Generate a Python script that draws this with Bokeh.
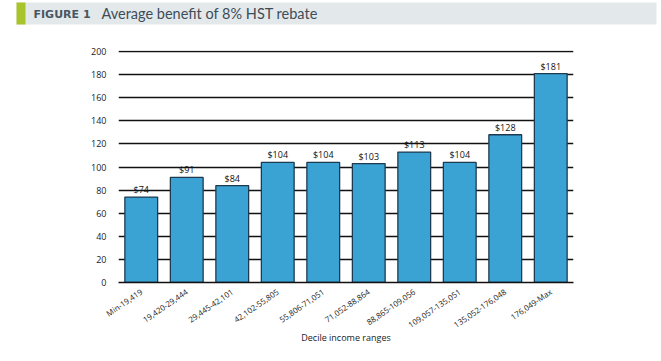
from bokeh.plotting import figure
from bokeh.layouts import column, row
from bokeh.models import ColumnDataSource, FactorRange, Range1d, FixedTicker
from bokeh.core.properties import value
from bokeh.embed import file_html
from bokeh.resources import INLINE

categories = ["Min-19,419", "19,420-29,444", "29,445-42,101", "42,102-55,805", "55,806-71,051",
              "71,052-88,864", "88,865-109,056", "109,057-135,051", "135,052-176,048", "176,049-Max"]
benefit = [74, 91, 84, 104, 104, 103, 113, 104, 128, 181]
bar_labels = ["$" + str(v) for v in benefit]
y_ticks = [0, 20, 40, 60, 80, 100, 120, 140, 160, 180, 200]

# ---- header band (title) ----
W = 661
HEAD_H = 26
head = figure(width=W, height=HEAD_H, output_backend="svg", toolbar_location=None,
              x_range=Range1d(0, W), y_range=Range1d(HEAD_H, 0),
              min_border=0, min_border_left=0, min_border_right=0, min_border_top=0, min_border_bottom=0)
head.axis.visible = False
head.grid.visible = False
head.outline_line_color = None
head.background_fill_color = "white"
head.border_fill_color = "white"
head.quad(left=16, right=656, top=2, bottom=24, fill_color="#E3E9EB", line_color=None)
head.quad(left=16, right=25, top=2, bottom=24, fill_color="#A9C42A", line_color=None)
head.text(x=[33], y=[13.5], text=["FIGURE 1"], text_font=value("DejaVu Sans"), text_font_style="bold",
          text_font_size="11px", text_color="#4A5662", text_baseline="middle")
head.text(x=[101], y=[13], text=["Average benefit of 8% HST rebate"], text_font=value("Lato"),
          text_font_size="14.5px", text_color="#3E4C58", text_baseline="middle")

# ---- chart ----
src = ColumnDataSource(dict(cat=categories, val=benefit, lab=bar_labels))

CH = 361 - HEAD_H
p = figure(width=W, height=CH, output_backend="svg", toolbar_location=None,
           x_range=FactorRange(factors=categories, range_padding=0),
           y_range=Range1d(0, 201),
           min_border_left=118, min_border_right=88, min_border_top=24, min_border_bottom=CH - 256)
p.outline_line_color = None
p.background_fill_color = "white"
p.border_fill_color = "white"

p.vbar(x="cat", top="val", width=0.72, source=src, fill_color="#3AA3D4",
       line_color="#1E3A50", line_width=1.3)
p.text(x="cat", y="val", text="lab", source=src, text_align="center", text_baseline="bottom",
       y_offset=-1, text_font=value("Open Sans"), text_font_size="9px", text_color="#111111")

p.xgrid.grid_line_color = None
p.ygrid.ticker = FixedTicker(ticks=y_ticks)
p.ygrid.grid_line_color = "#111111"
p.ygrid.grid_line_width = 1.6
p.ygrid.level = "underlay"

p.yaxis.ticker = FixedTicker(ticks=y_ticks)
p.yaxis.axis_line_color = None
p.yaxis.major_tick_line_color = None
p.yaxis.minor_tick_line_color = None
p.yaxis.major_label_text_font = "Open Sans"
p.yaxis.major_label_text_font_size = "9px"
p.yaxis.major_label_text_color = "#222222"
p.yaxis.major_label_standoff = 6

p.xaxis.axis_line_color = "#111111"
p.xaxis.axis_line_width = 1.6
p.xaxis.major_tick_line_color = None
p.xaxis.major_label_orientation = 0.6
p.xaxis.major_label_text_font = "Open Sans"
p.xaxis.major_label_text_font_size = "8px"
p.xaxis.major_label_text_color = "#222222"
p.xaxis.major_label_standoff = 2
p.xaxis.axis_label = "Decile income ranges"
p.xaxis.axis_label_text_font = "Open Sans"
p.xaxis.axis_label_text_font_style = "normal"
p.xaxis.axis_label_text_font_size = "9px"
p.xaxis.axis_label_text_color = "#222222"
p.xaxis.axis_label_standoff = -6

layout = column(row(head), row(p), spacing=0)
open("out.html", "w").write(file_html(layout, INLINE))
